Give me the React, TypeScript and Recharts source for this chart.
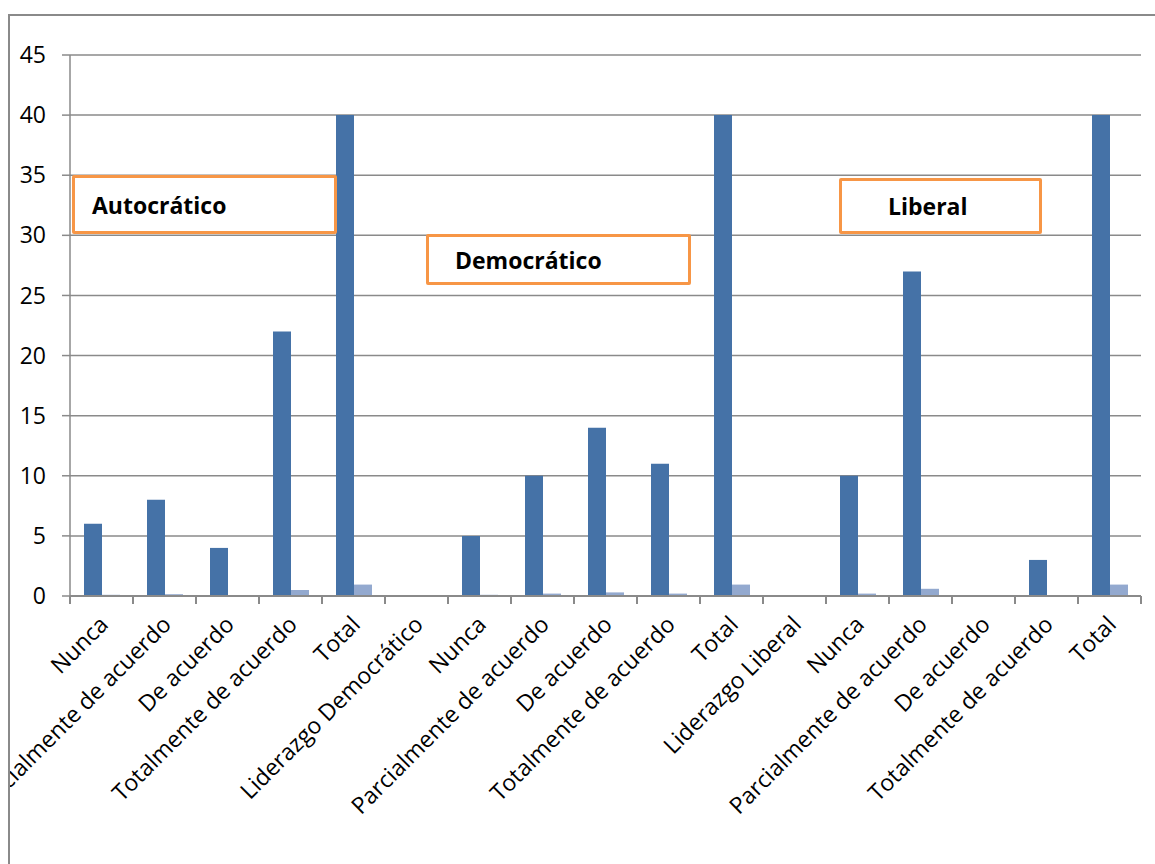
import React from 'react';
import { BarChart, Bar, XAxis, YAxis, CartesianGrid } from 'recharts';

const categories = [
  'Nunca',
  'Parcialmente de acuerdo',
  'De acuerdo',
  'Totalmente de acuerdo',
  'Total',
  'Liderazgo Democrático',
  'Nunca',
  'Parcialmente de acuerdo',
  'De acuerdo',
  'Totalmente de acuerdo',
  'Total',
  'Liderazgo Liberal',
  'Nunca',
  'Parcialmente de acuerdo',
  'De acuerdo',
  'Totalmente de acuerdo',
  'Total',
];

const frecuencia = [6, 8, 4, 22, 40, null, 5, 10, 14, 11, 40, null, 10, 27, null, 3, 40];
const proporcion = [0.1, 0.15, 0, 0.5, 0.95, null, 0.1, 0.2, 0.3, 0.2, 0.95, null, 0.2, 0.6, null, 0, 0.95];

const yTicks = [0, 5, 10, 15, 20, 25, 30, 35, 40, 45];

const data = categories.map((c, i) => ({
  idx: i,
  name: c,
  frecuencia: frecuencia[i],
  proporcion: proporcion[i],
}));

const W = 1155;
const H = 864;
const M = { top: 55, right: 14, bottom: 0, left: 0 };
const Y_AXIS_W = 70;
const X_AXIS_H = 268;
const plotW = W - M.left - M.right - Y_AXIS_W;
const step = plotW / categories.length;

const AXIS = '#8a8a8a';
const FONT = '"Open Sans", "Liberation Sans", sans-serif';
// frame (outer chart border) offset
const FX = 8;
const FY = 14;
const FB = 2;

const XTick = (props: any) => {
  const { x, y, payload, index } = props;
  const label = categories[payload.value] ?? '';
  return (
    <g>
      <line x1={x - step / 2} x2={x - step / 2} y1={y} y2={y + 8} stroke={AXIS} strokeWidth={2} />
      {index === categories.length - 1 && (
        <line x1={x + step / 2} x2={x + step / 2} y1={y} y2={y + 8} stroke={AXIS} strokeWidth={2} />
      )}
      <g transform={`translate(${x + 8},${y + 30})`}>
        <text transform="rotate(-45)" textAnchor="end" fontSize={23} fontFamily={FONT} fill="#000">
          {label}
        </text>
      </g>
    </g>
  );
};

const boxStyle = (left: number, top: number, width: number, height: number, pad: number): React.CSSProperties => ({
  position: 'absolute',
  left,
  top,
  width,
  height,
  boxSizing: 'border-box',
  border: '3px solid #F79646',
  borderRadius: 2,
  background: '#fff',
  display: 'flex',
  alignItems: 'center',
  paddingLeft: pad,
  fontFamily: FONT,
  fontWeight: 700,
  fontSize: 23,
  color: '#000',
});

export default function App() {
  return (
    <div style={{ position: 'absolute', left: 0, top: 0, width: W, height: H, overflow: 'hidden', background: '#fff' }}>
      <div
        style={{
          position: 'absolute',
          left: FX,
          top: FY,
          width: W + 20,
          height: H + 20,
          overflow: 'hidden',
          borderLeft: `${FB}px solid ${AXIS}`,
          borderTop: `${FB}px solid ${AXIS}`,
        }}
      >
        <div style={{ position: 'absolute', left: -(FX + FB), top: -(FY + FB) }}>
          <BarChart width={W} height={H} data={data} margin={M} barGap={0} barSize={18}>
            <CartesianGrid vertical={false} stroke={AXIS} strokeWidth={1.5} />
            <XAxis
              dataKey="idx"
              type="category"
              height={X_AXIS_H}
              interval={0}
              tickLine={false}
              tickSize={0}
              tickMargin={0}
              stroke={AXIS}
              strokeWidth={2}
              tick={<XTick />}
            />
            <YAxis
              width={Y_AXIS_W}
              domain={[0, 45]}
              ticks={yTicks}
              interval={0}
              tickSize={8}
              tickMargin={16}
              stroke={AXIS}
              strokeWidth={1.5}
              tick={{ fill: '#000', fontSize: 23, fontFamily: FONT }}
            />
            <Bar dataKey="frecuencia" fill="#4572A7" isAnimationActive={false} />
            <Bar dataKey="proporcion" fill="#93A9CF" isAnimationActive={false} />
          </BarChart>
        </div>
      </div>
      <div style={boxStyle(72, 175, 265, 59, 17)}>Autocrático</div>
      <div style={boxStyle(426, 234, 265, 51, 26)}>Democrático</div>
      <div style={boxStyle(839, 178, 203, 56, 46)}>Liberal</div>
    </div>
  );
}
